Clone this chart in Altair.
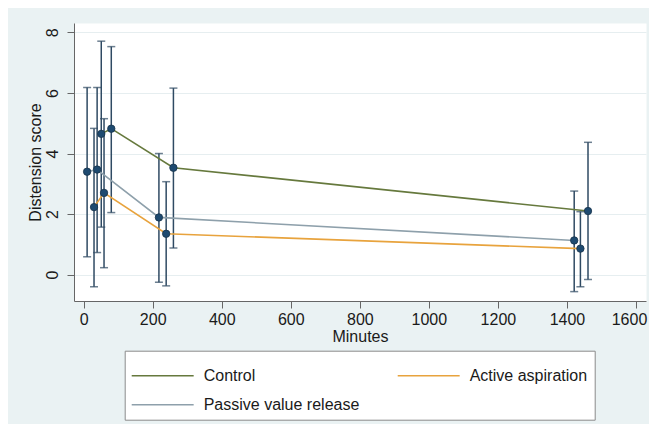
import altair as alt
import pandas as pd

# ---- data ----
series_names = ["Control", "Active aspiration", "Passive value release"]

control_minutes = [51, 80, 260, 1461]
control_mean = [4.65, 4.82, 3.53, 2.10]
control_lo = [1.57, 2.05, 0.88, -0.16]
control_hi = [7.71, 7.53, 6.16, 4.37]

active_minutes = [30, 59, 239, 1439]
active_mean = [2.23, 2.70, 1.35, 0.86]
active_lo = [-0.40, 0.23, -0.37, -0.40]
active_hi = [4.83, 5.15, 3.07, 2.08]

passive_minutes = [10, 39, 218, 1421]
passive_mean = [3.40, 3.47, 1.89, 1.13]
passive_lo = [0.59, 0.73, -0.25, -0.56]
passive_hi = [6.18, 6.18, 4.00, 2.76]

x_ticks = [0, 200, 400, 600, 800, 1000, 1200, 1400, 1600]
y_ticks = [0, 2, 4, 6, 8]

line_colors = ["#66793d", "#e8a33d", "#8ea0ab"]

rows = []
for name, mins, mean, lo, hi in [
    ("Control", control_minutes, control_mean, control_lo, control_hi),
    ("Active aspiration", active_minutes, active_mean, active_lo, active_hi),
    ("Passive value release", passive_minutes, passive_mean, passive_lo, passive_hi),
]:
    for m, mu, l, h in zip(mins, mean, lo, hi):
        rows.append({"series": name, "minutes": m, "mean": mu, "lo": l, "hi": h})
df = pd.DataFrame(rows)

FONT = "Liberation Sans"
AX = "#666666"
TXT = "#1a1a1a"

xscale = alt.Scale(domain=[-28, 1629], nice=False, zero=False)
yscale = alt.Scale(domain=[-0.87, 8.31], nice=False, zero=False)

xaxis = alt.Axis(
    values=x_ticks, format="d", title="Minutes", grid=False, domainColor=AX, tickColor=AX,
    tickSize=7, labelPadding=3, labelFontSize=16, labelFont=FONT, labelColor=TXT,
    titleFontSize=16, titleFont=FONT, titleColor=TXT, titleFontWeight="normal",
    titleY=40, titleBaseline="alphabetic", labelFlush=False,
    labelOffset={"condition": {"test": "datum.value === 1600", "value": -7}, "value": 0},
)
yaxis = alt.Axis(
    values=y_ticks, title="Distension score", grid=True, gridColor="#e6eef0",
    domainColor=AX, tickColor=AX, tickSize=7, labelPadding=7, labelAngle=270,
    labelAlign="center", labelBaseline="bottom", labelFontSize=16, labelFont=FONT,
    labelColor=TXT, titleFontSize=16, titleFont=FONT, titleColor=TXT,
    titleFontWeight="normal", titleX=-34, titleBaseline="alphabetic",
)

base = alt.Chart(df)

bars = base.mark_errorbar(
    ticks=True, size=8, thickness=1.5, color="#2f4a63"
).encode(
    x=alt.X("minutes:Q", scale=xscale, axis=xaxis),
    y=alt.Y("lo:Q", scale=yscale, axis=yaxis, title="Distension score"),
    y2="hi:Q",
)

lines = base.mark_line(strokeWidth=1.6).encode(
    x=alt.X("minutes:Q", scale=xscale, axis=xaxis),
    y=alt.Y("mean:Q", scale=yscale, axis=yaxis, title="Distension score"),
    color=alt.Color(
        "series:N",
        scale=alt.Scale(domain=series_names, range=line_colors),
        sort=series_names,
        legend=alt.Legend(
            title=" ", titleFontSize=8, titlePadding=2,
            orient="none", legendX=50.7, legendY=327.7, direction="horizontal",
            columns=2, columnPadding=35, rowPadding=13, padding=7,
            symbolType="M-1.103,0H7.448", symbolSize=210, symbolStrokeWidth=1.5,
            labelOffset=56, labelFontSize=16, labelFont=FONT, labelColor=TXT,
            fillColor="white", strokeColor="#8a8a8a", labelLimit=300,
        ),
    ),
    order="minutes:Q",
)

points = base.mark_point(
    filled=True, size=55, color="#1e4a70", opacity=1, stroke="#16324a", strokeWidth=0.8
).encode(
    x=alt.X("minutes:Q", scale=xscale, axis=xaxis),
    y=alt.Y("mean:Q", scale=yscale, axis=yaxis, title="Distension score"),
)

chart = alt.layer(bars, lines, points).properties(
    width=572,
    height=278,
    autosize=alt.AutoSizeParams(type="none"),
    padding={"left": 66, "top": 15, "right": 3, "bottom": 123},
    background="#eaf2f3",
).configure_view(fill="white", stroke="transparent")

chart.save("out.html", embed_options={"renderer": "svg", "actions": False})
